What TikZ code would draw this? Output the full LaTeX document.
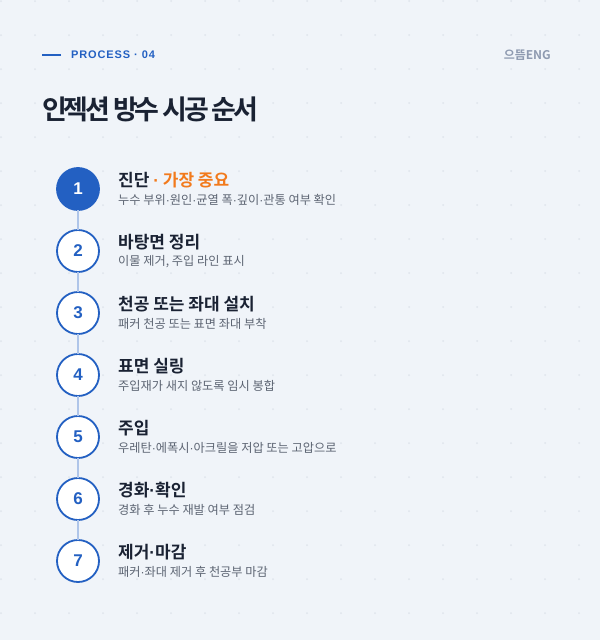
\documentclass[tikz,border=0pt]{standalone}
\usepackage{fontspec}
\setmainfont{Noto Sans CJK KR}[BoldFont={Noto Sans CJK KR Bold}]
\newfontfamily\numfont{Liberation Sans}
\newfontfamily\kickfont{Liberation Sans}[LetterSpace=8]
\newcommand\md{{\numfont ·}}
\usetikzlibrary{positioning}

\definecolor{pagebg}{HTML}{F0F4F9}
\definecolor{dotgray}{HTML}{DFE4EC}
\definecolor{procblue}{HTML}{2360C2}
\definecolor{linkblue}{HTML}{AFC5E9}
\definecolor{titledark}{HTML}{1A2233}
\definecolor{notegray}{HTML}{5C6472}
\definecolor{accent}{HTML}{F27A1C}
\definecolor{brandgray}{HTML}{8E9AB0}

\begin{document}
\begin{tikzpicture}[x=1pt, y=-1pt,
  stepnum/.style = {shape=circle, draw=procblue, line width=1.8pt,
    fill=white, minimum size=42pt, inner sep=0pt, outer sep=0pt,
    text=procblue, font=\numfont\bfseries\fontsize{17}{17}\selectfont},
  stepfirst/.style = {stepnum, fill=procblue, text=white},
  steptitle/.style = {inner sep=0pt, text=titledark,
    font=\bfseries\fontsize{17}{17}\selectfont},
  stepnote/.style = {inner sep=0pt, text=notegray,
    font=\fontsize{12.2}{12.2}\selectfont},
  link/.style = {draw=linkblue, line width=2.5pt}]

  % page and dot grid
  \fill[pagebg] (0,0) rectangle (600,640);
  \useasboundingbox (0,0) rectangle (600,640);
  \foreach \gx in {0,...,17}
    \foreach \gy in {0,...,18}
      \fill[dotgray] (34*\gx+1, 34*\gy+1) circle (1pt);

  % header
  \node[anchor=west, inner sep=0pt, text=procblue,
    font=\kickfont\bfseries\fontsize{11}{11}\selectfont]
    (kicker) at (71,55) {PROCESS · 04};
  \coordinate (kickend) at ([xshift=-10pt]kicker.west);
  \draw[procblue, line width=2pt] (kickend) -- ++(-19,0);
  \node[anchor=east, inner sep=0pt, text=brandgray,
    font=\bfseries\fontsize{12}{12}\selectfont]
    (brand) at (551,55) {으뜸ENG};
  \node[anchor=west, inner sep=0pt, text=titledark,
    font=\bfseries\fontsize{27}{27}\selectfont\addfontfeatures{LetterSpace=-12}]
    (heading) at (42,109) {인젝션 방수 시공 순서};

  % steps
  \node[stepfirst] (c1) at (78,189) {1};
  \node[steptitle, right=19pt of c1, yshift=9pt] (t1)
    {진단 \textcolor{accent}{\md{} 가장 중요}};
  \node[stepnote, right=19pt of c1, yshift=-11pt] (n1)
    {누수 부위\md{}원인\md{}균열 폭\md{}깊이\md{}관통 여부 확인};
  \foreach \i/\title/\note [count=\p from 1] in {
      2/바탕면 정리/{이물 제거, 주입 라인 표시},
      3/천공 또는 좌대 설치/패커 천공 또는 표면 좌대 부착,
      4/표면 실링/주입재가 새지 않도록 임시 봉합,
      5/주입/우레탄\md{}에폭시\md{}아크릴을 저압 또는 고압으로,
      6/경화\md{}확인/경화 후 누수 재발 여부 점검,
      7/제거\md{}마감/패커\md{}좌대 제거 후 천공부 마감} {
    \node[stepnum, below=20pt of c\p] (c\i) {\i};
    \node[steptitle, right=19pt of c\i, yshift=9pt] (t\i) {\title};
    \node[stepnote, right=19pt of c\i, yshift=-11pt] (n\i) {\note};
  }

  % connectors
  \foreach \i [count=\j from 2] in {1,...,6}
    \draw[link] (c\i) -- (c\j);
\end{tikzpicture}
\end{document}
